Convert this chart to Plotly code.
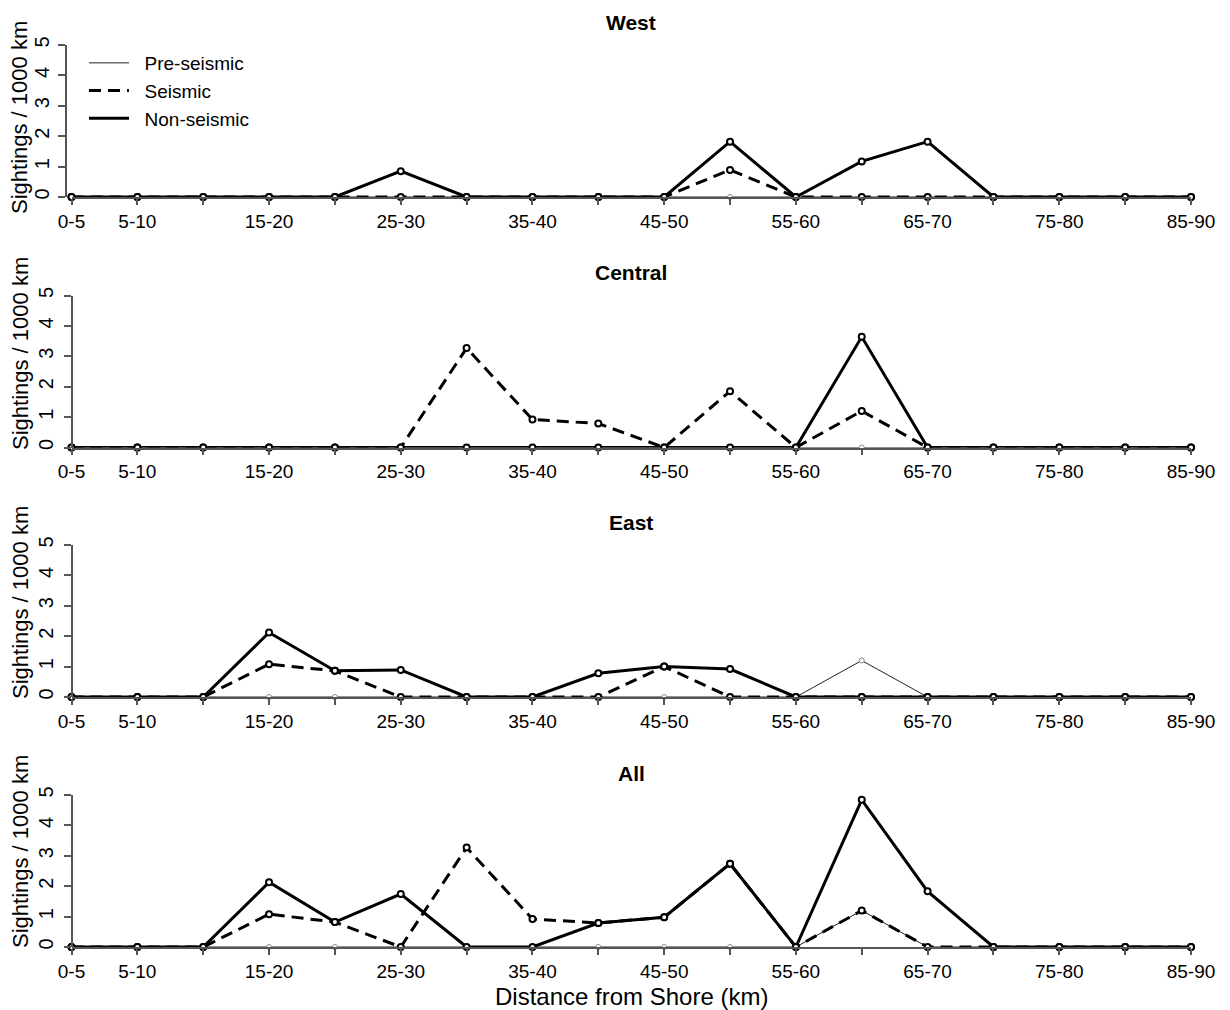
import plotly.graph_objects as go

categories = ["0-5", "5-10", "10-15", "15-20", "20-25", "25-30", "30-35", "35-40", "40-45",
              "45-50", "50-55", "55-60", "60-65", "65-70", "70-75", "75-80", "80-85", "85-90"]
tick_labels = ["0-5", "5-10", "", "15-20", "", "25-30", "", "35-40", "", "45-50", "",
               "55-60", "", "65-70", "", "75-80", "", "85-90"]
y_ticks = [0, 1, 2, 3, 4, 5]

panel_titles = ["West", "Central", "East", "All"]
series_names = ["Pre-seismic", "Seismic", "Non-seismic"]

west_pre = [0, 0, 0, 0, 0, 0, 0, 0, 0, 0, 0, 0, 0, 0, 0, 0, 0, 0]
west_seis = [0, 0, 0, 0, 0, 0, 0, 0, 0, 0, 0.89, 0, 0, 0, 0, 0, 0, 0]
west_non = [0, 0, 0, 0, 0, 0.85, 0, 0, 0, 0, 1.82, 0, 1.17, 1.82, 0, 0, 0, 0]

central_pre = [0, 0, 0, 0, 0, 0, 0, 0, 0, 0, 0, 0, 0, 0, 0, 0, 0, 0]
central_seis = [0, 0, 0, 0, 0, 0, 3.27, 0.92, 0.79, 0, 1.85, 0, 1.2, 0, 0, 0, 0, 0]
central_non = [0, 0, 0, 0, 0, 0, 0, 0, 0, 0, 0, 0, 3.64, 0, 0, 0, 0, 0]

east_pre = [0, 0, 0, 0, 0, 0, 0, 0, 0, 0, 0, 0, 1.2, 0, 0, 0, 0, 0]
east_seis = [0, 0, 0, 1.08, 0.86, 0, 0, 0, 0, 1.0, 0, 0, 0, 0, 0, 0, 0, 0]
east_non = [0, 0, 0, 2.12, 0.86, 0.89, 0, 0, 0.78, 1.0, 0.92, 0, 0, 0, 0, 0, 0, 0]

all_pre = [0, 0, 0, 0, 0, 0, 0, 0, 0, 0, 0, 0, 1.2, 0, 0, 0, 0, 0]
all_seis = [0, 0, 0, 1.08, 0.82, 0, 3.27, 0.92, 0.79, 0.98, 2.74, 0, 1.2, 0, 0, 0, 0, 0]
all_non = [0, 0, 0, 2.13, 0.82, 1.74, 0, 0, 0.79, 0.98, 2.74, 0, 4.84, 1.83, 0, 0, 0, 0]

panels = [
    (west_pre, west_seis, west_non),
    (central_pre, central_seis, central_non),
    (east_pre, east_seis, east_non),
    (all_pre, all_seis, all_non),
]

W, H = 1230, 1010
OFF = 8  # page body margin
FONT = "Liberation Sans, Arial, sans-serif"
AXC = "#555555"


def fx(px):
    return (px - OFF) / W


def fy(py):
    return 1 - (py - OFF) / H


# target pixel layout (screen coordinates)
x_left, x_right = 71.5, 1191
y_bottoms = [197, 447.5, 697, 947]
panel_h = 152
yaxis_x = [66, 72, 72, 72]
ylab_standoff = [1, 3, 3, 3]
title_y = [22, 272, 522, 773]
ytitle_y = [118, 354, 603, 852]

line_styles = [
    dict(color="#222222", width=1),
    dict(color="black", width=3, dash="12px,7px"),
    dict(color="black", width=3),
]
marker_styles = [
    dict(symbol="circle", size=5, color="white", line=dict(color="#888888", width=1)),
    dict(symbol="circle", size=6, color="white", line=dict(color="black", width=2)),
    dict(symbol="circle", size=6, color="white", line=dict(color="black", width=2)),
]

fig = go.Figure()
annotations = []

for p, series in enumerate(panels):
    xa = "x" if p == 0 else f"x{p+1}"
    ya = "y" if p == 0 else f"y{p+1}"
    for s, vals in enumerate(series):
        fig.add_trace(go.Scatter(
            x=categories, y=vals, mode="lines", xaxis=xa, yaxis=ya,
            name="\u00a0\u00a0" + series_names[s], line=line_styles[s],
            showlegend=(p == 0), cliponaxis=False, hoverinfo="skip"))
    for s, vals in enumerate(series):
        fig.add_trace(go.Scatter(
            x=categories, y=vals, mode="markers", xaxis=xa, yaxis=ya,
            marker=marker_styles[s], showlegend=False, cliponaxis=False))

    yb = y_bottoms[p]
    yt = yb - panel_h
    xkey = "xaxis" if p == 0 else f"xaxis{p+1}"
    ykey = "yaxis" if p == 0 else f"yaxis{p+1}"
    fig.update_layout(**{
        xkey: dict(
            domain=[fx(x_left), fx(x_right)], anchor=ya, type="category",
            categoryorder="array", categoryarray=categories,
            range=[0, 17], tickmode="array", tickvals=categories, ticktext=tick_labels,
            showline=True, linecolor=AXC, linewidth=1.5,
            ticks="outside", ticklen=6, tickcolor=AXC, tickwidth=1.5,
            showgrid=False, zeroline=False, automargin=False,
            tickfont=dict(family=FONT, size=19, color="black"),
        ),
        ykey: dict(
            domain=[fy(yb), fy(yt)], anchor="free", position=fx(yaxis_x[p]),
            range=[0, 5], tickvals=y_ticks, ticktext=[str(v) for v in y_ticks],
            showline=True, linecolor=AXC, linewidth=1.5,
            ticks="outside", ticklen=7, tickcolor=AXC, tickwidth=1.5,
            showgrid=False, zeroline=False, tickangle=-90, automargin=False,
            tickfont=dict(family=FONT, size=20, color="black"),
            ticklabelstandoff=ylab_standoff[p],
        ),
    })
    annotations.append(dict(
        text=f"<b>{panel_titles[p]}</b>", x=fx((x_left + x_right) / 2), y=fy(title_y[p]),
        xref="paper", yref="paper", xanchor="center", yanchor="middle", showarrow=False,
        font=dict(family=FONT, size=21, color="black")))
    annotations.append(dict(
        text="Sightings / 1000 km", x=fx(20), y=fy(ytitle_y[p]), textangle=-90,
        xref="paper", yref="paper", xanchor="center", yanchor="middle", showarrow=False,
        font=dict(family=FONT, size=22, color="black")))

annotations.append(dict(
    text="Distance from Shore (km)", x=fx((x_left + x_right) / 2), y=fy(996),
    xref="paper", yref="paper", xanchor="center", yanchor="middle", showarrow=False,
    font=dict(family=FONT, size=24, color="black")))

fig.update_layout(
    width=W, height=H,
    margin=dict(l=0, r=0, t=0, b=0, pad=0, autoexpand=False),
    paper_bgcolor="white", plot_bgcolor="white",
    annotations=annotations,
    showlegend=True,
    legend=dict(x=fx(84), y=fy(44), xanchor="left", yanchor="top",
                bgcolor="rgba(0,0,0,0)", borderwidth=0, tracegroupgap=0,
                font=dict(family=FONT, size=19, color="black"), itemwidth=40),
)

fig.write_html("out.html")
